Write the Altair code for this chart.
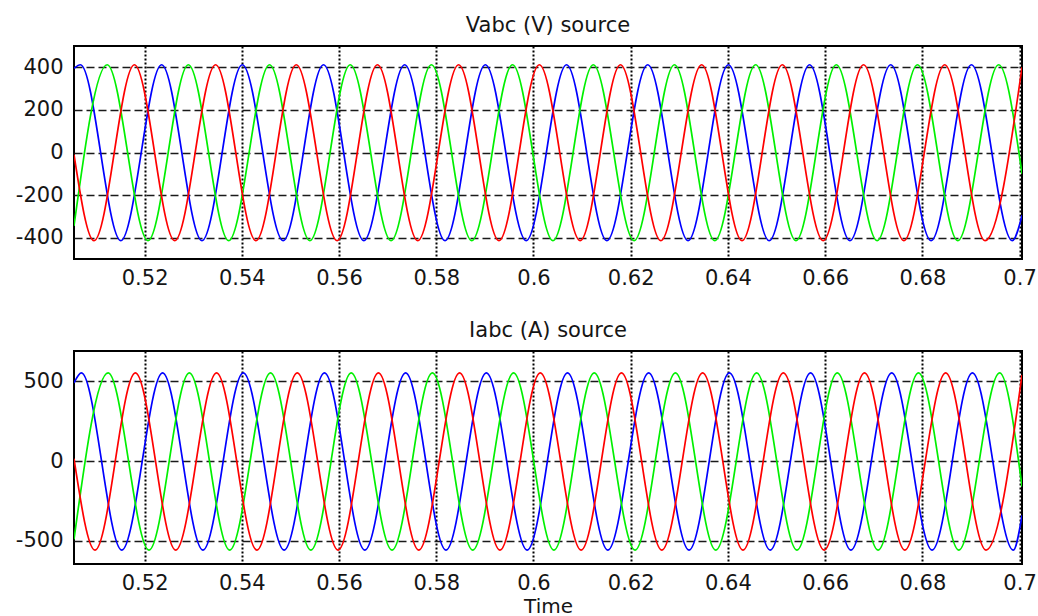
import altair as alt
import pandas as pd

# ---------------- data ----------------
PHASES = ["a", "b", "c"]
PHASE_COLORS = {"a": "#0000ff", "b": "#00f000", "c": "#ff0000"}

T_MIN, T_MAX = 0.50547, 0.7005
X_TICKS = [0.52, 0.54, 0.56, 0.58, 0.6, 0.62, 0.64, 0.66, 0.68, 0.7]

# Voltage panel
V_TITLE = "Vabc (V) source"
V_TICKS = [-400, -200, 0, 200, 400]
V_DOMAIN = [-500, 500]
V_PEAK, V_TROUGH = 412, -414
V_A_PEAKS = [0.5068, 0.5235, 0.5401, 0.5568, 0.5735, 0.5901, 0.6068, 0.6235, 0.6401, 0.6568, 0.6735, 0.6901]
V_A_TROUGHS = [0.5151, 0.5318, 0.5485, 0.5651, 0.5818, 0.5985, 0.6151, 0.6318, 0.6485, 0.6651, 0.6818, 0.6985]
V_B_PEAKS = [0.5123, 0.5290, 0.5457, 0.5623, 0.5790, 0.5957, 0.6123, 0.6290, 0.6457, 0.6623, 0.6790, 0.6957]
V_B_TROUGHS = [0.5207, 0.5373, 0.5540, 0.5707, 0.5873, 0.6040, 0.6207, 0.6373, 0.6540, 0.6707, 0.6873]
V_C_PEAKS = [0.5179, 0.5346, 0.5512, 0.5679, 0.5846, 0.6012, 0.6179, 0.6346, 0.6512, 0.6679, 0.6846]
V_C_TROUGHS = [0.5096, 0.5262, 0.5429, 0.5596, 0.5762, 0.5929, 0.6096, 0.6262, 0.6429, 0.6596, 0.6762, 0.6929]
V_START = {"a": 395, "b": -345, "c": -10}
V_END = {"a": -295, "b": -100, "c": 400}

# Current panel
I_TITLE = "Iabc (A) source"
I_TICKS = [-500, 0, 500]
I_DOMAIN = [-645, 690]
I_PEAK, I_TROUGH = 553, -558
I_A_PEAKS = [0.5070, 0.5237, 0.5403, 0.5570, 0.5737, 0.5903, 0.6070, 0.6237, 0.6403, 0.6570, 0.6737, 0.6903]
I_A_TROUGHS = [0.5153, 0.5320, 0.5487, 0.5653, 0.5820, 0.5987, 0.6153, 0.6320, 0.6487, 0.6653, 0.6820, 0.6987]
I_B_PEAKS = [0.5125, 0.5292, 0.5459, 0.5625, 0.5792, 0.5959, 0.6125, 0.6292, 0.6459, 0.6625, 0.6792, 0.6959]
I_B_TROUGHS = [0.5209, 0.5375, 0.5542, 0.5709, 0.5875, 0.6042, 0.6209, 0.6375, 0.6542, 0.6709, 0.6875]
I_C_PEAKS = [0.5181, 0.5348, 0.5514, 0.5681, 0.5848, 0.6014, 0.6181, 0.6348, 0.6514, 0.6681, 0.6848]
I_C_TROUGHS = [0.5098, 0.5264, 0.5431, 0.5598, 0.5764, 0.5931, 0.6098, 0.6264, 0.6431, 0.6598, 0.6764, 0.6931]
I_START = {"a": 490, "b": -490, "c": 15}
I_END = {"a": -340, "b": -160, "c": 540}

X_TITLE = "Time"

# ---------------- build tables ----------------
def build(peaks, troughs, peak_val, trough_val, start, end):
    rows = []
    for ph in PHASES:
        rows.append({"t": T_MIN, "v": start[ph], "phase": ph})
        for t in peaks[ph]:
            rows.append({"t": t, "v": peak_val, "phase": ph})
        for t in troughs[ph]:
            rows.append({"t": t, "v": trough_val, "phase": ph})
        rows.append({"t": T_MAX, "v": end[ph], "phase": ph})
    return pd.DataFrame(rows).sort_values(["phase", "t"]).reset_index(drop=True)

v_df = build({"a": V_A_PEAKS, "b": V_B_PEAKS, "c": V_C_PEAKS},
             {"a": V_A_TROUGHS, "b": V_B_TROUGHS, "c": V_C_TROUGHS},
             V_PEAK, V_TROUGH, V_START, V_END)
i_df = build({"a": I_A_PEAKS, "b": I_B_PEAKS, "c": I_C_PEAKS},
             {"a": I_A_TROUGHS, "b": I_B_TROUGHS, "c": I_C_TROUGHS},
             I_PEAK, I_TROUGH, I_START, I_END)

FONT = "DejaVu Sans"
FS = 21
TXT = "#151515"
W, H = 948, 213


def panel(df, title, yticks, ydomain, show_xtitle):
    x_axis = alt.Axis(
        values=X_TICKS, format=".2~f", labelFlush=False, labelOverlap=False,
        labelFont=FONT, labelFontSize=FS, labelColor=TXT,
        grid=True, gridDash=[2, 2], gridWidth=2, gridColor="#000000",
        ticks=False, domain=False, labelPadding=8,
        title=X_TITLE if show_xtitle else None,
        titleFont=FONT, titleFontSize=20, titleFontWeight="normal",
        titleColor=TXT, titlePadding=3,
    )
    y_axis = alt.Axis(
        values=yticks, labelExpr="replace(datum.label, '\u2212', '-')",
        labelFont=FONT, labelFontSize=FS, labelColor=TXT,
        grid=True, gridDash=[8, 4], gridWidth=1.4, gridColor="#1a1a1a",
        ticks=False, domain=False, labelPadding=11, title=None,
        minExtent=60, maxExtent=60,
    )
    xs = alt.Scale(domain=[T_MIN, T_MAX], nice=False, zero=False)
    ys = alt.Scale(domain=ydomain, nice=False, zero=False)
    layers = []
    for i, ph in enumerate(PHASES):
        base = alt.Chart(df).transform_filter(alt.datum.phase == ph).mark_line(
            color=PHASE_COLORS[ph], strokeWidth=1.7, interpolate="monotone", clip=True
        )
        if i == 0:
            enc = base.encode(x=alt.X("t:Q", scale=xs, axis=x_axis),
                              y=alt.Y("v:Q", scale=ys, axis=y_axis))
        else:
            enc = base.encode(x=alt.X("t:Q", scale=xs), y=alt.Y("v:Q", scale=ys))
        layers.append(enc)
    return alt.layer(*layers).properties(
        width=W, height=H,
        title=alt.TitleParams(title, font=FONT, fontSize=FS, fontWeight="normal",
                              color=TXT, anchor="middle", frame="group",
                              baseline="alphabetic", offset=-7),
    )


top = panel(v_df, V_TITLE, V_TICKS, V_DOMAIN, False)
bottom = panel(i_df, I_TITLE, I_TICKS, I_DOMAIN, True)

chart = alt.vconcat(top, bottom, spacing=30).properties(
    padding={"left": 13, "top": 14, "right": 0, "bottom": 0},
    background="white",
).configure_view(stroke="#000000", strokeWidth=2)

chart.save("out.html", embed_options={"renderer": "svg", "actions": False})
